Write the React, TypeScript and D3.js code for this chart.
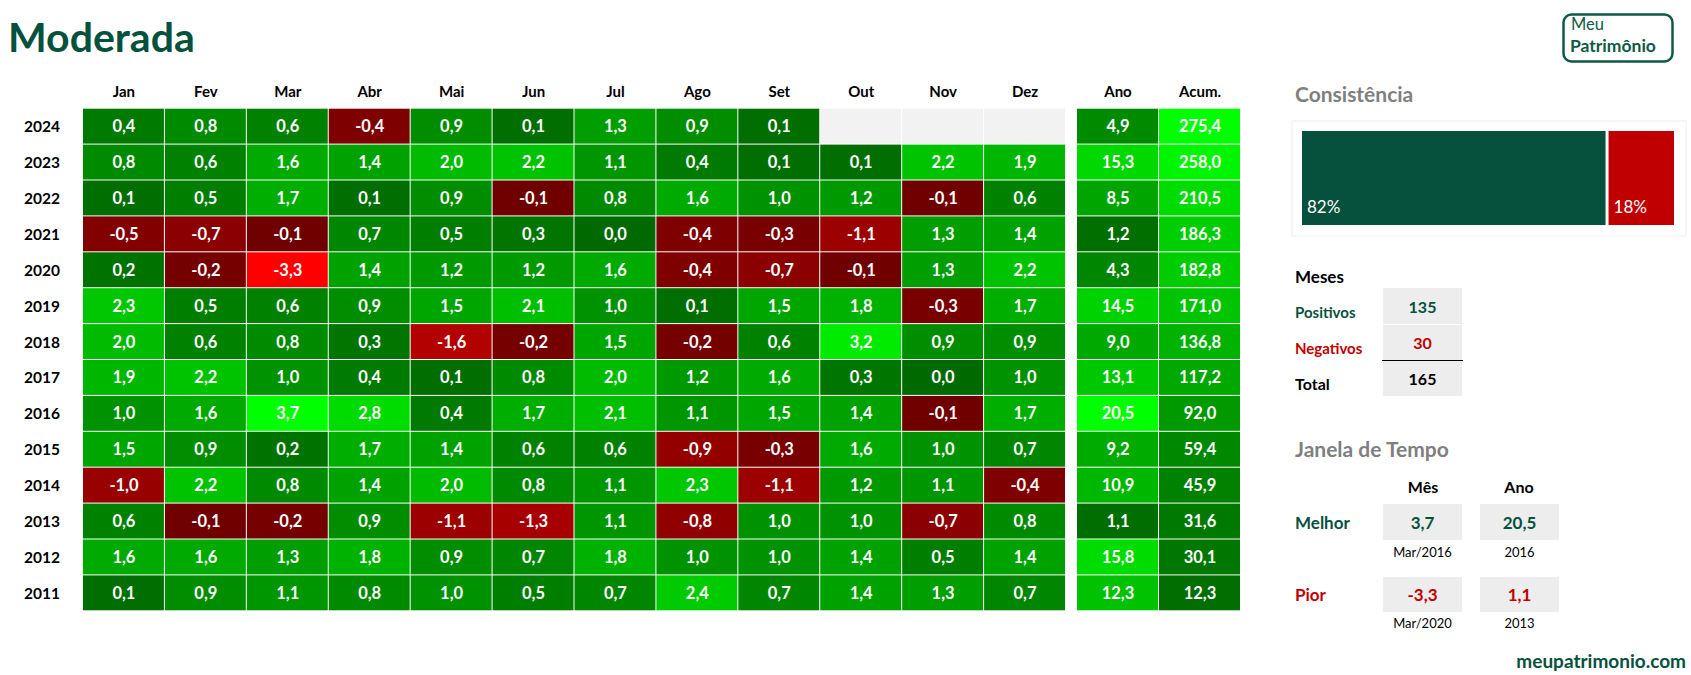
import React from "react";
import * as d3 from "d3";

const months = ["Jan", "Fev", "Mar", "Abr", "Mai", "Jun", "Jul", "Ago", "Set", "Out", "Nov", "Dez"];
const years = [2024, 2023, 2022, 2021, 2020, 2019, 2018, 2017, 2016, 2015, 2014, 2013, 2012, 2011];

const v2024 = [0.4, 0.8, 0.6, -0.4, 0.9, 0.1, 1.3, 0.9, 0.1, null, null, null];
const v2023 = [0.8, 0.6, 1.6, 1.4, 2.0, 2.2, 1.1, 0.4, 0.1, 0.1, 2.2, 1.9];
const v2022 = [0.1, 0.5, 1.7, 0.1, 0.9, -0.1, 0.8, 1.6, 1.0, 1.2, -0.1, 0.6];
const v2021 = [-0.5, -0.7, -0.1, 0.7, 0.5, 0.3, 0.0, -0.4, -0.3, -1.1, 1.3, 1.4];
const v2020 = [0.2, -0.2, -3.3, 1.4, 1.2, 1.2, 1.6, -0.4, -0.7, -0.1, 1.3, 2.2];
const v2019 = [2.3, 0.5, 0.6, 0.9, 1.5, 2.1, 1.0, 0.1, 1.5, 1.8, -0.3, 1.7];
const v2018 = [2.0, 0.6, 0.8, 0.3, -1.6, -0.2, 1.5, -0.2, 0.6, 3.2, 0.9, 0.9];
const v2017 = [1.9, 2.2, 1.0, 0.4, 0.1, 0.8, 2.0, 1.2, 1.6, 0.3, 0.0, 1.0];
const v2016 = [1.0, 1.6, 3.7, 2.8, 0.4, 1.7, 2.1, 1.1, 1.5, 1.4, -0.1, 1.7];
const v2015 = [1.5, 0.9, 0.2, 1.7, 1.4, 0.6, 0.6, -0.9, -0.3, 1.6, 1.0, 0.7];
const v2014 = [-1.0, 2.2, 0.8, 1.4, 2.0, 0.8, 1.1, 2.3, -1.1, 1.2, 1.1, -0.4];
const v2013 = [0.6, -0.1, -0.2, 0.9, -1.1, -1.3, 1.1, -0.8, 1.0, 1.0, -0.7, 0.8];
const v2012 = [1.6, 1.6, 1.3, 1.8, 0.9, 0.7, 1.8, 1.0, 1.0, 1.4, 0.5, 1.4];
const v2011 = [0.1, 0.9, 1.1, 0.8, 1.0, 0.5, 0.7, 2.4, 0.7, 1.4, 1.3, 0.7];

const monthly: (number | null)[][] = [v2024, v2023, v2022, v2021, v2020, v2019, v2018, v2017, v2016, v2015, v2014, v2013, v2012, v2011];
const anoValues = [4.9, 15.3, 8.5, 1.2, 4.3, 14.5, 9.0, 13.1, 20.5, 9.2, 10.9, 1.1, 15.8, 12.3];
const acumValues = [275.4, 258.0, 210.5, 186.3, 182.8, 171.0, 136.8, 117.2, 92.0, 59.4, 45.9, 31.6, 30.1, 12.3];

const FONT = "Lato, 'Open Sans', sans-serif";
const DARK = "#06513D";
const RED = "#C00000";

const fmt = (v: number) => v.toFixed(1).replace(".", ",");

export default function App() {
  const x = d3.scaleBand<string>().domain(months).range([83, 1066]);
  const xSum = d3.scaleBand<string>().domain(["Ano", "Acum."]).range([1077, 1241]);
  const y = d3.scaleBand<string>().domain(years.map(String)).range([108.7, 611.3]);

  const all = monthly.flat().filter((v): v is number => v !== null);
  const maxV = d3.max(all)!;
  const minV = d3.min(all)!;
  const green = d3.scaleLinear<string>().domain([0, maxV]).range(["#006A00", "#00FF00"]).clamp(true);
  const red = d3.scaleLinear<string>().domain([minV, 0]).range(["#FF0000", "#6C0000"]).clamp(true);
  const cellColor = (v: number | null) => (v === null ? "#F2F2F2" : v < 0 ? red(v) : green(v));
  const anoColor = d3.scaleLinear<string>().domain([d3.min(anoValues)!, d3.max(anoValues)!]).range(["#006E00", "#00FF00"]);
  const acumColor = d3.scaleLinear<string>().domain([d3.min(acumValues)!, d3.max(acumValues)!]).range(["#006E00", "#00FF00"]);

  const pos = all.filter((v) => v >= 0).length;
  const neg = all.filter((v) => v < 0).length;
  const total = pos + neg;
  const pctPos = Math.round((pos / total) * 100);
  const pctNeg = 100 - pctPos;

  let best = { v: -Infinity, m: "", y: 0 };
  let worst = { v: Infinity, m: "", y: 0 };
  monthly.forEach((row, ri) =>
    row.forEach((v, ci) => {
      if (v === null) return;
      if (v > best.v) best = { v, m: months[ci], y: years[ri] };
      if (v < worst.v) worst = { v, m: months[ci], y: years[ri] };
    })
  );
  const bestYi = anoValues.indexOf(d3.max(anoValues)!);
  const worstYi = anoValues.indexOf(d3.min(anoValues)!);

  const bw = x.bandwidth();
  const bh = y.bandwidth();

  const cx = d3.scaleLinear().domain([0, 100]).range([1302, 1674]);
  const gap = 3;

  return (
    <svg width={1691} height={675} style={{ position: "absolute", left: 0, top: 0, background: "#fff" }} fontFamily={FONT}>
      <text x={8} y={52} fontSize={41} fontWeight={700} fill={DARK}>Moderada</text>

      {/* logo */}
      <rect x={1563.5} y={14.5} width={109} height={47} rx={8} fill="none" stroke="#0E5A45" strokeWidth={2.5} />
      <text x={1571} y={30} fontSize={16.5} fill="#0E5A45">Meu</text>
      <text x={1570} y={51.5} fontSize={17.5} fontWeight={700} fill="#0E5A45">Patrimônio</text>

      {months.map((m) => (
        <text key={m} x={x(m)! + bw / 2} y={97} textAnchor="middle" fontSize={15} fontWeight={700} fill="#000">{m}</text>
      ))}
      {["Ano", "Acum."].map((m) => (
        <text key={m} x={xSum(m)! + xSum.bandwidth() / 2} y={97} textAnchor="middle" fontSize={15} fontWeight={700} fill="#000">{m}</text>
      ))}

      {years.map((yr, ri) => {
        const yy = y(String(yr))!;
        return (
          <g key={yr}>
            <text x={42} y={yy + bh / 2 + 5.5} textAnchor="middle" fontSize={15.5} fontWeight={700} fill="#000">{yr}</text>
            {monthly[ri].map((v, ci) => (
              <g key={ci}>
                <rect x={x(months[ci])!} y={yy} width={bw - 1} height={bh - 1} fill={cellColor(v)} />
                {v !== null && (
                  <text x={x(months[ci])! + bw / 2} y={yy + bh / 2 + 5.5} textAnchor="middle" fontSize={16.5} fontWeight={700} fill="#fff">{fmt(v)}</text>
                )}
              </g>
            ))}
            <rect x={xSum("Ano")!} y={yy} width={xSum.bandwidth() - 1} height={bh - 1} fill={anoColor(anoValues[ri])} />
            <text x={xSum("Ano")! + xSum.bandwidth() / 2} y={yy + bh / 2 + 5.5} textAnchor="middle" fontSize={16.5} fontWeight={700} fill="#fff">{fmt(anoValues[ri])}</text>
            <rect x={xSum("Acum.")!} y={yy} width={xSum.bandwidth() - 1} height={bh - 1} fill={acumColor(acumValues[ri])} />
            <text x={xSum("Acum.")! + xSum.bandwidth() / 2} y={yy + bh / 2 + 5.5} textAnchor="middle" fontSize={16.5} fontWeight={700} fill="#fff">{fmt(acumValues[ri])}</text>
          </g>
        );
      })}

      {/* Consistência */}
      <text x={1295} y={102} fontSize={21} fontWeight={700} fill="#7F7F7F">Consistência</text>
      <rect x={1292} y={121} width={394} height={115} fill="#fff" stroke="#EEEEEE" strokeWidth={1} />
      <rect x={cx(0)} y={131} width={cx(pctPos) - cx(0) - gap / 2} height={94} fill={DARK} />
      <rect x={cx(pctPos) + gap / 2} y={131} width={cx(100) - cx(pctPos) - gap / 2} height={94} fill={RED} />
      <text x={cx(0) + 5} y={213} fontSize={17} fill="#fff">{pctPos}%</text>
      <text x={cx(pctPos) + gap / 2 + 5} y={213} fontSize={17} fill="#fff">{pctNeg}%</text>

      {/* Meses */}
      <text x={1295} y={283} fontSize={17} fontWeight={700} fill="#000">Meses</text>
      <rect x={1383} y={288} width={79} height={36} fill="#EDEDED" />
      <rect x={1383} y={325} width={79} height={35} fill="#EDEDED" />
      <rect x={1383} y={361} width={79} height={35} fill="#EDEDED" />
      <line x1={1382} x2={1463} y1={360.5} y2={360.5} stroke="#000" strokeWidth={1} />
      <text x={1295} y={318} fontSize={15} fontWeight={700} fill={DARK}>Positivos</text>
      <text x={1295} y={354} fontSize={15} fontWeight={700} fill={RED}>Negativos</text>
      <text x={1295} y={390} fontSize={16} fontWeight={700} fill="#000">Total</text>
      <text x={1422.5} y={313} textAnchor="middle" fontSize={16} fontWeight={700} fill={DARK}>{pos}</text>
      <text x={1422.5} y={349} textAnchor="middle" fontSize={16} fontWeight={700} fill={RED}>{neg}</text>
      <text x={1422.5} y={385} textAnchor="middle" fontSize={16} fontWeight={700} fill="#000">{total}</text>

      {/* Janela de Tempo */}
      <text x={1295} y={457} fontSize={21} fontWeight={700} fill="#7F7F7F">Janela de Tempo</text>
      <text x={1423} y={493} textAnchor="middle" fontSize={16} fontWeight={700} fill="#000">Mês</text>
      <text x={1519} y={493} textAnchor="middle" fontSize={16} fontWeight={700} fill="#000">Ano</text>
      <text x={1295} y={529} fontSize={17} fontWeight={700} fill={DARK}>Melhor</text>
      <text x={1295} y={601} fontSize={17} fontWeight={700} fill={RED}>Pior</text>
      <rect x={1383} y={504} width={79} height={36} fill="#EDEDED" />
      <rect x={1480} y={504} width={79} height={36} fill="#EDEDED" />
      <rect x={1383} y={577} width={79} height={35} fill="#EDEDED" />
      <rect x={1480} y={577} width={79} height={35} fill="#EDEDED" />
      <text x={1422.5} y={529} textAnchor="middle" fontSize={17} fontWeight={700} fill={DARK}>{fmt(best.v)}</text>
      <text x={1519.5} y={529} textAnchor="middle" fontSize={17} fontWeight={700} fill={DARK}>{fmt(anoValues[bestYi])}</text>
      <text x={1422.5} y={601} textAnchor="middle" fontSize={17} fontWeight={700} fill={RED}>{fmt(worst.v)}</text>
      <text x={1519.5} y={601} textAnchor="middle" fontSize={17} fontWeight={700} fill={RED}>{fmt(anoValues[worstYi])}</text>
      <text x={1422.5} y={557} textAnchor="middle" fontSize={13} fill="#000">{`${best.m}/${best.y}`}</text>
      <text x={1519.5} y={557} textAnchor="middle" fontSize={13} fill="#000">{years[bestYi]}</text>
      <text x={1422.5} y={628} textAnchor="middle" fontSize={13} fill="#000">{`${worst.m}/${worst.y}`}</text>
      <text x={1519.5} y={628} textAnchor="middle" fontSize={13} fill="#000">{years[worstYi]}</text>

      <text x={1686} y={668} textAnchor="end" fontSize={19} fontWeight={700} fill={DARK}>meupatrimonio.com</text>
    </svg>
  );
}
